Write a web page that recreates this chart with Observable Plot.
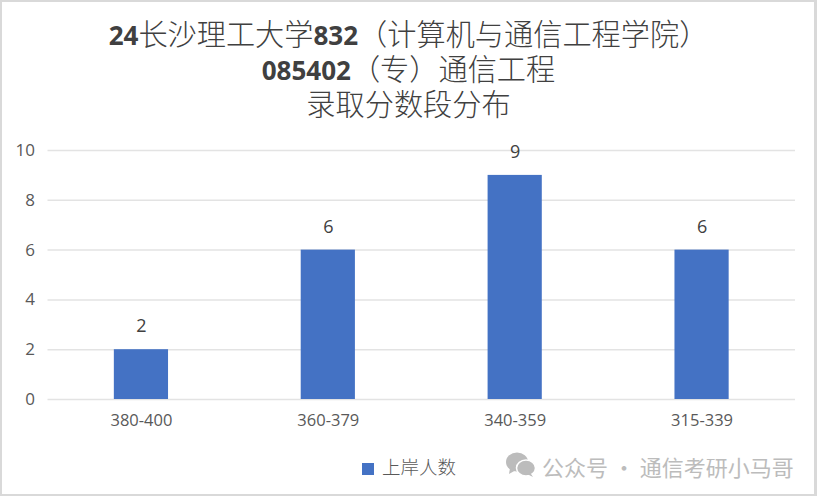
<!DOCTYPE html>
<html><head><meta charset="utf-8">
<script src="https://cdn.jsdelivr.net/npm/d3@7"></script>
<script src="https://cdn.jsdelivr.net/npm/@observablehq/plot@0.6"></script>
<style>
html,body{margin:0;padding:0;background:#fff}
#wrap{position:relative;width:819px;height:498px;box-sizing:border-box;overflow:hidden;background:#fff}
#frame{position:absolute;left:0;top:0;width:817px;height:496px;box-sizing:border-box;border:2px solid #d9d9d9;border-right-width:3px;pointer-events:none}
#title{position:absolute;left:0;top:15px;width:817px;text-align:center;font-family:"Noto Sans CJK SC","Noto Sans",sans-serif;font-size:29.2px;color:#404040;font-weight:300}
#title div{height:35px;line-height:35px;white-space:nowrap}
#title b{font-family:"Open Sans",sans-serif;font-weight:700;font-size:26px}
#chart{position:absolute;left:0;top:130px}
#legend{position:absolute;left:362px;top:453px;font-family:"Noto Sans CJK SC",sans-serif;font-size:18.5px;line-height:26px;color:#595959;font-weight:300;white-space:nowrap}
#legend i{display:inline-block;width:12px;height:12px;background:#4472c4;margin-right:8px;vertical-align:-1px}
#mark{position:absolute;left:505px;top:451px;font-family:"Noto Sans CJK SC",sans-serif;font-size:22px;line-height:30px;color:#bcbcbc;white-space:nowrap;font-weight:400}
#mark svg{position:absolute;left:0;top:1px}
#mark span{margin-left:37px}
</style></head>
<body><div id="wrap">
<div id="title"><div><b>24</b>长沙理工大学<b>832</b>（计算机与通信工程学院）</div><div><b>085402</b>（专）通信工程</div><div>录取分数段分布</div></div>
<div id="chart"></div>
<div id="legend"><i></i><span id="legendText"></span></div>
<div id="mark"><svg width="32" height="26" viewBox="0 0 32 26"><ellipse cx="12" cy="10" rx="11" ry="9.5" fill="#bcbcbc"/><path d="M5 16 L4 22 L11 18Z" fill="#bcbcbc"/><ellipse cx="21" cy="16" rx="9.5" ry="8" fill="#bcbcbc" stroke="#fff" stroke-width="1.5"/><path d="M26 22 L28 25 L22 22Z" fill="#bcbcbc"/></svg><span>公众号 · 通信考研小马哥</span></div>
<div id="frame"></div>
</div>
<script>
const categories = ["380-400","360-379","340-359","315-339"];
const counts = [2,6,9,6];
const yTicks = [0,2,4,6,8,10];
const seriesName = "上岸人数";
const table = categories.map((c,i)=>({c,v:counts[i]}));
document.getElementById("legendText").textContent = seriesName;
const chart = Plot.plot({
  width:819, height:320,
  marginLeft:47.5, marginRight:24, marginTop:20, marginBottom:51,
  style:{fontFamily:'"Open Sans",sans-serif',background:"transparent",overflow:"visible"},
  x:{domain:categories,paddingInner:0.71,paddingOuter:0.355,round:false,label:null},
  y:{domain:[0,10],label:null},
  marks:[
    Plot.ruleY(yTicks,{stroke:"#e3e3e3",strokeWidth:1.5}),
    Plot.barY(table,{x:"c",y:"v",fill:"#4472c4"}),
    Plot.axisX({tickSize:0,tickPadding:15,fontSize:16.5,color:"#595959",label:null}),
    Plot.axisY({ticks:yTicks,tickSize:0,tickPadding:13,fontSize:17,color:"#595959",label:null}),
    Plot.text(table,{x:"c",y:"v",text:d=>String(d.v),dy:-23,fill:"#404040",fontSize:18})
  ]
});
document.getElementById("chart").appendChild(chart);
</script></body></html>
